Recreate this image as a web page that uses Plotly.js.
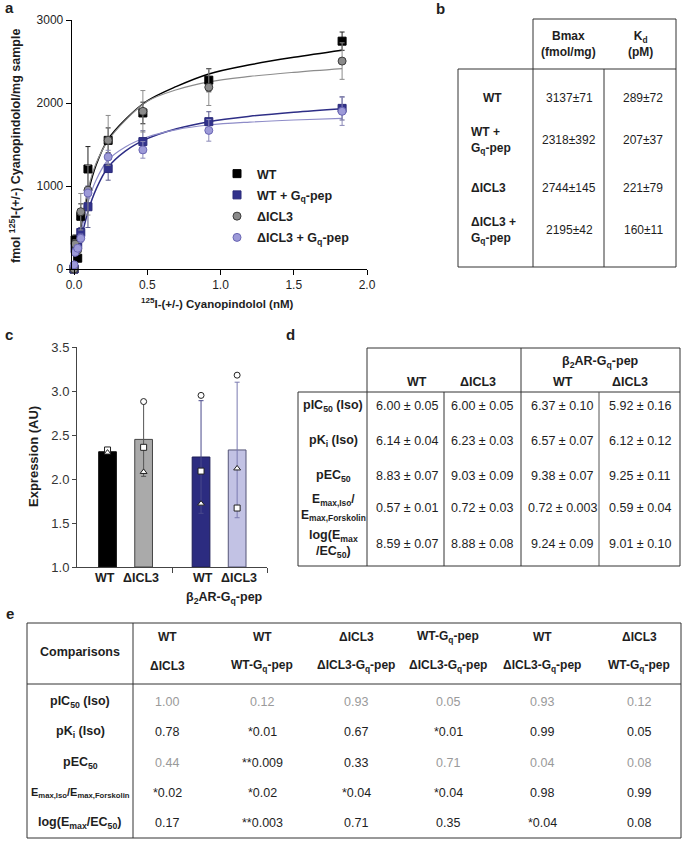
<!DOCTYPE html>
<html><head><meta charset="utf-8">
<script src="https://cdn.plot.ly/plotly-3.0.1.min.js"></script>
<style>html,body{margin:0;padding:0;background:#fff}#chart{width:684px;height:843px}</style>
</head><body><div id="chart"></div>
<script>
// ---------- Panel a data: saturation binding ----------
const concNM = [0, 0.007, 0.025, 0.046, 0.095, 0.233, 0.47, 0.92, 1.83];
const wtY      = [0, 350, 130, 635, 1205, 1550, 1880, 2275, 2745];
const wtErr    = [0, 60, 40, 150, 270, 150, 130, 140, 110];
const icl3Y    = [0, 300, 230, 690, 950, 1550, 1900, 2190, 2505];
const icl3Err  = [0, 50, 50, 220, 300, 300, 250, 220, 220];
const wtGqY    = [0, 250, 290, 440, 750, 1210, 1535, 1775, 1935];
const wtGqErr  = [0, 40, 50, 60, 250, 140, 130, 120, 140];
const icl3GqY  = [50, 200, 250, 370, 915, 1350, 1435, 1670, 1900];
const icl3GqErr= [0, 30, 40, 50, 60, 80, 100, 130, 170];
// fitted curves
const fitX      = [0, 0.025, 0.05, 0.1, 0.15, 0.23, 0.35, 0.5, 0.7, 0.92, 1.2, 1.5, 1.83];
const fitWT     = [0, 280, 530, 950, 1250, 1556, 1800, 2025, 2200, 2350, 2460, 2550, 2635];
const fitICL3   = [0, 300, 560, 990, 1270, 1540, 1790, 2020, 2160, 2255, 2320, 2370, 2415];
const fitWTGq   = [0, 200, 380, 720, 960, 1220, 1420, 1570, 1690, 1775, 1840, 1890, 1932];
const fitICL3Gq = [0, 250, 460, 830, 1070, 1310, 1470, 1590, 1680, 1735, 1770, 1795, 1815];
const aSeriesNames = ['WT', 'WT + G<sub>q</sub>-pep', 'ΔICL3', 'ΔICL3 + G<sub>q</sub>-pep'];
const aXTicks = ['0.0', '0.5', '1.0', '1.5', '2.0'];
const aXTickVals = [0, 0.5, 1, 1.5, 2];

// ---------- Panel b table ----------
const bHeader = ['Bmax<br>(fmol/mg)', 'K<sub>d</sub><br>(pM)'];
const bRows = ['WT', 'WT +<br>G<sub>q</sub>-pep', 'ΔICL3', 'ΔICL3 +<br>G<sub>q</sub>-pep'];
const bBmax = ['3137±71', '2318±392', '2744±145', '2195±42'];
const bKd = ['289±72', '207±37', '221±79', '160±11'];

// ---------- Panel c bar chart ----------
const cCats = ['WT', 'ΔICL3', 'WT', 'ΔICL3'];
const cGroup = 'β<sub>2</sub>AR-G<sub>q</sub>-pep';
const cMeans = [2.31, 2.45, 2.25, 2.33];
const cErr = [0.02, 0.42, 0.64, 0.77];
const cCircle = [2.32, 2.88, 2.95, 3.18];
const cSquare = [2.33, 2.36, 2.09, 1.67];
const cTriangle = [2.30, 2.08, 1.72, 2.12];

// ---------- Panel d table ----------
const dGroupHeader = 'β<sub>2</sub>AR-G<sub>q</sub>-pep';
const dCols = ['WT', 'ΔICL3', 'WT', 'ΔICL3'];
const dRows = ['pIC<sub>50</sub> (Iso)', 'pK<sub>i</sub> (Iso)', 'pEC<sub>50</sub>',
  'E<sub>max,Iso</sub>/<br>E<sub>max,Forskolin</sub>', 'log(E<sub>max</sub><br>/EC<sub>50</sub>)'];
const dWT = ['6.00 ± 0.05', '6.14 ± 0.04', '8.83 ± 0.07', '0.57 ± 0.01', '8.59 ± 0.07'];
const dICL3 = ['6.00 ± 0.05', '6.23 ± 0.03', '9.03 ± 0.09', '0.72 ± 0.03', '8.88 ± 0.08'];
const dGqWT = ['6.37 ± 0.10', '6.57 ± 0.07', '9.38 ± 0.07', '0.72 ± 0.003', '9.24 ± 0.09'];
const dGqICL3 = ['5.92 ± 0.16', '6.12 ± 0.12', '9.25 ± 0.11', '0.59 ± 0.04', '9.01 ± 0.10'];

// ---------- Panel e table ----------
const eCorner = 'Comparisons';
const eHead1 = ['WT', 'WT', 'ΔICL3', 'WT-G<sub>q</sub>-pep', 'WT', 'ΔICL3'];
const eHead2 = ['ΔICL3', 'WT-G<sub>q</sub>-pep', 'ΔICL3-G<sub>q</sub>-pep', 'ΔICL3-G<sub>q</sub>-pep', 'ΔICL3-G<sub>q</sub>-pep', 'WT-G<sub>q</sub>-pep'];
const eRows = ['pIC<sub>50</sub> (Iso)', 'pK<sub>i</sub> (Iso)', 'pEC<sub>50</sub>',
  'E<sub>max,Iso</sub>/E<sub>max,Forskolin</sub>', 'log(E<sub>max</sub>/EC<sub>50</sub>)'];
const eVals = [
  ['1.00', '0.12', '0.93', '0.05', '0.93', '0.12'],
  ['0.78', '*0.01', '0.67', '*0.01', '0.99', '0.05'],
  ['0.44', '**0.009', '0.33', '0.71', '0.04', '0.08'],
  ['*0.02', '*0.02', '*0.04', '*0.04', '0.98', '0.99'],
  ['0.17', '**0.003', '0.71', '0.35', '*0.04', '0.08']];
const eGrey = [
  [1, 1, 1, 1, 1, 1],
  [0, 0, 0, 0, 0, 0],
  [1, 0, 0, 1, 1, 1],
  [0, 0, 0, 0, 0, 0],
  [0, 0, 0, 0, 0, 0]];

// ================= drawing =================
const W = 684, H = 843;
const F = 'Liberation Sans, Arial, Helvetica, sans-serif';
const TXT = '#1e1e1e';
const ann = [], shp = [];
function A(x, y, text, size, o) {
  o = o || {};
  ann.push({xref: 'paper', yref: 'paper', x: x / W, y: 1 - y / H, text: text, showarrow: false,
    xanchor: o.xanchor || 'center', yanchor: 'middle', align: o.align || 'center',
    textangle: o.angle || 0,
    font: {family: F, size: size, color: o.color || TXT, weight: o.bold ? 'bold' : 'normal'}});
}
function L(x0, y0, x1, y1, c, w) {
  shp.push({type: 'line', xref: 'paper', yref: 'paper', x0: x0 / W, y0: 1 - y0 / H, x1: x1 / W, y1: 1 - y1 / H,
    line: {color: c || '#333', width: w || 1}});
}
const B = {bold: true};

const traces = [];
// ---- panel a ----
const aStyles = [
  {y: wtY, e: wtErr, sym: 'square', fill: '#000000', line: '#000000', ec: '#222222'},
  {y: wtGqY, e: wtGqErr, sym: 'square', fill: '#32328c', line: '#2a2a7a', ec: '#5a5a8c'},
  {y: icl3Y, e: icl3Err, sym: 'circle', fill: '#8a8a8a', line: '#3a3a3a', ec: '#8c8c8c'},
  {y: icl3GqY, e: icl3GqErr, sym: 'circle', fill: '#9d9ad8', line: '#6a66b4', ec: '#8c8ab8'}];
const fits = [fitWT, fitWTGq, fitICL3, fitICL3Gq];
const fitColors = ['#000000', '#2e2e86', '#8c8c8c', '#8e8cc8'];
const fitW = [1.5, 1.5, 1.2, 1.2];
fits.forEach((f, i) => traces.push({x: fitX, y: f, mode: 'lines', line: {color: fitColors[i], width: fitW[i], shape: 'spline'},
  showlegend: false, hoverinfo: 'skip', xaxis: 'x', yaxis: 'y', cliponaxis: false}));
aStyles.forEach((s, i) => traces.push({x: concNM, y: s.y, mode: 'markers', name: aSeriesNames[i], legendgroup: 'g' + i,
  marker: {symbol: s.sym, size: 8, color: s.fill, line: {color: s.line, width: 1}},
  error_y: {type: 'data', array: s.e, visible: true, color: s.ec, thickness: 1, width: 2.5},
  xaxis: 'x', yaxis: 'y', cliponaxis: false}));

// ---- panel c ----
const cPos = cCats.map((c, i) => (i < 2 ? 1 + i * 1.1 : 3.85 + (i - 2) * 1.1));
const cFill = ['#000000', '#aaaaaa', '#2c2c80', '#c2c2e4'];
const cLine = ['#111111', '#444444', '#1c1c55', '#555577'];
const cErrCol = ['#111111', '#555555', '#4a4a8c', '#7a7ab0'];
cMeans.forEach((m, i) => traces.push({type: 'bar', x: [cPos[i]], y: [m - 1], base: 1, width: 0.54,
  marker: {color: cFill[i], line: {color: cLine[i], width: 1}},
  error_y: {type: 'data', array: [cErr[i]], visible: true, color: cErrCol[i], thickness: 1, width: 2.5},
  showlegend: false, xaxis: 'x2', yaxis: 'y2', hoverinfo: 'skip'}));
[[cCircle, 'circle'], [cSquare, 'square'], [cTriangle, 'triangle-up']].forEach(([vals, sym]) =>
  traces.push({x: cPos, y: vals, mode: 'markers', marker: {symbol: sym, size: 6, color: '#ffffff', line: {color: '#222222', width: 1}},
    showlegend: false, xaxis: 'x2', yaxis: 'y2', hoverinfo: 'skip', cliponaxis: false}));

// ---- annotations: panel labels ----
A(9, 8, 'a', 15, B); A(440, 9, 'b', 15, B); A(9, 334, 'c', 15, B); A(290, 334, 'd', 15, B); A(10, 613, 'e', 15, B);

// panel a titles
A(217, 303, '<sup>125</sup>I-(+/-) Cyanopindolol (nM)', 11.5, B);
A(15, 146, 'fmol <sup>125</sup>I-(+/-) Cyanopindolol/mg sample', 12.5, {angle: -90, bold: true});

// panel c labels
A(33, 457, 'Expression (AU)', 13, {angle: -90, bold: true});
cCats.forEach((c, i) => A(105 + (i < 2 ? i * 36 : 98 + (i - 2) * 36), 578, c, 12.5, B));
A(224, 598, cGroup, 12.5, B);

// ---- panel b table ----
L(533, 19, 676, 19); L(458, 69, 676, 69); L(458, 267, 676, 267);
L(533, 19, 533, 267); L(676, 19, 676, 267); L(458, 69, 458, 267); L(604, 69, 604, 267);
A(568, 44, bHeader[0], 12, B); A(640, 44, bHeader[1], 12, B);
const bRowY = [98, 140, 188, 230];
bRows.forEach((r, i) => {
  if (i === 0) A(493, bRowY[i], r, 12, B);
  else A(469, bRowY[i], r, 12, {xanchor: 'left', align: 'left', bold: true});
  A(569, bRowY[i], bBmax[i], 12);
  A(643, bRowY[i], bKd[i], 12);
});

// ---- panel d table ----
L(367, 348, 680, 348); L(298, 392, 680, 392); L(298, 566, 680, 566);
L(298, 392, 298, 566); L(367, 348, 367, 566); L(444, 392, 444, 566); L(521, 348, 521, 566);
L(599, 392, 599, 566, '#555'); L(680, 348, 680, 566);
A(600, 362, dGroupHeader, 12.5, B);
const dColX = [417, 478, 563, 630];
dCols.forEach((c, i) => A(dColX[i], 382, c, 12.5, B));
const dRowY = [406, 441, 476, 508, 544];
const dValX = [407, 482, 562, 640];
dRows.forEach((r, i) => {
  A(333, dRowY[i], r, i === 3 ? 12 : 12.5, B);
  [dWT, dICL3, dGqWT, dGqICL3].forEach((col, j) => A(dValX[j], dRowY[i], col[i], 12.5));
});

// ---- panel e table ----
L(27, 623, 681, 623); L(27, 684, 681, 684); L(27, 838, 681, 838);
L(27, 623, 27, 838); L(133, 623, 133, 838); L(681, 623, 681, 838);
A(80, 652, eCorner, 12.5, B);
const eColX = [167, 262, 356, 448, 542, 639];
eHead1.forEach((h, i) => { A(eColX[i], 637, h, 12, B); A(eColX[i], 666, eHead2[i], 12, B); });
const eRowY = [702, 732, 763, 793, 823];
eRows.forEach((r, i) => {
  A(80, eRowY[i], r, i === 3 ? 11 : 12.5, B);
  eVals[i].forEach((v, j) => A(eColX[j], eRowY[i], v, 12.5, {color: eGrey[i][j] ? '#9a9a9a' : TXT}));
});

const layout = {
  width: W, height: H, margin: {l: 0, r: 0, t: 0, b: 0}, paper_bgcolor: '#fff', plot_bgcolor: 'rgba(0,0,0,0)',
  font: {family: F, size: 12, color: TXT},
  showlegend: true,
  legend: {x: 217 / W, y: 1 - 159 / H, xanchor: 'left', yanchor: 'top', bgcolor: 'rgba(0,0,0,0)',
    font: {family: F, size: 12.5, color: TXT, weight: 'bold'}, tracegroupgap: 2, itemclick: false},
  xaxis: {domain: [71.7 / W, 367 / W], range: [-0.016, 2.0], tickvals: aXTickVals, ticktext: aXTicks,
    showline: true, linecolor: '#000', linewidth: 1, ticks: 'outside', ticklen: 5, tickcolor: '#000',
    showgrid: false, zeroline: false, tickfont: {size: 12, color: TXT}, anchor: 'y'},
  yaxis: {domain: [1 - 269 / H, 1 - 20 / H], range: [0, 3000], dtick: 1000,
    showline: true, linecolor: '#000', linewidth: 1, ticks: 'outside', ticklen: 5, tickcolor: '#000',
    showgrid: false, zeroline: false, tickfont: {size: 12, color: TXT}, anchor: 'x'},
  xaxis2: {domain: [77 / W, 267 / W], range: [0.07, 5.86], tickvals: [2.975, 5.86], showticklabels: false,
    showline: true, linecolor: '#444', linewidth: 1, ticks: 'outside', ticklen: 5, tickcolor: '#444',
    showgrid: false, zeroline: false, anchor: 'y2'},
  yaxis2: {domain: [1 - 567 / H, 1 - 347 / H], range: [1, 3.5], dtick: 0.5, tickformat: '.1f',
    showline: true, linecolor: '#444', linewidth: 1, ticks: 'outside', ticklen: 4, tickcolor: '#444',
    showgrid: false, zeroline: false, tickfont: {size: 13, color: '#333'}, anchor: 'x2'},
  annotations: ann, shapes: shp, barmode: 'overlay'
};
Plotly.newPlot('chart', traces, layout, {staticPlot: true, displayModeBar: false});
</script></body></html>
